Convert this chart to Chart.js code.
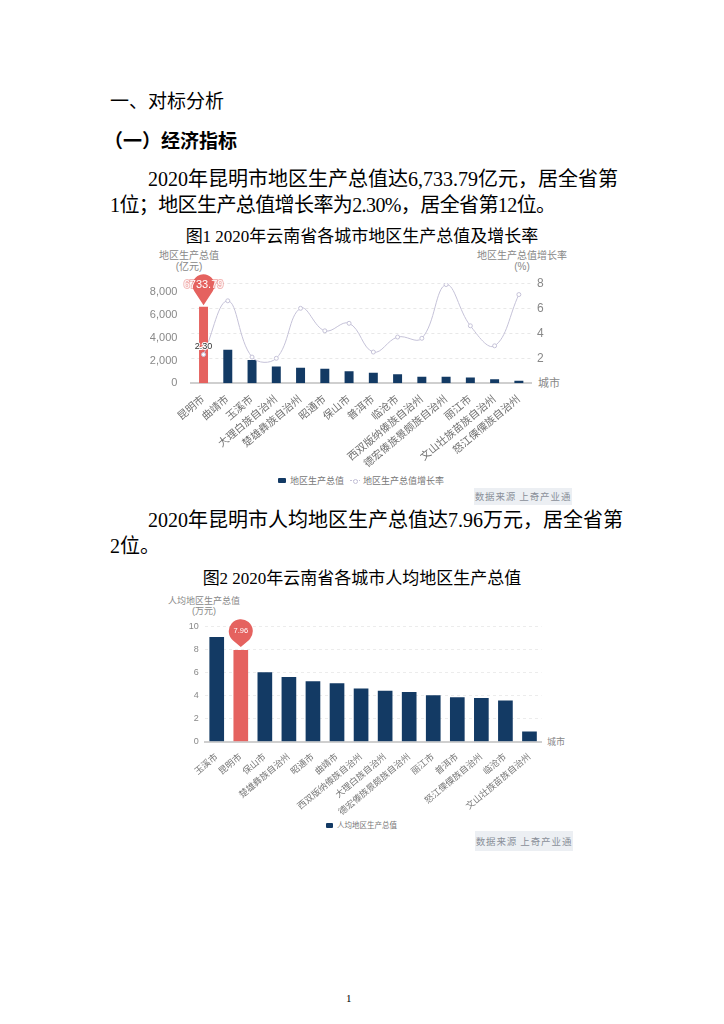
<!DOCTYPE html>
<html><head><meta charset="utf-8">
<script src="https://cdn.jsdelivr.net/npm/chart.js@4.4.1/dist/chart.umd.min.js"></script>
<style>
body{margin:0;width:724px;height:1024px;background:#fff;position:relative;overflow:hidden;font-family:"Liberation Serif","Noto Sans CJK SC",serif;color:#000;}
.t{position:absolute;white-space:nowrap;line-height:1;}
.p{font-size:20px;}
.ct{font-size:17px;left:0;width:724px;text-align:center;}
.ax{position:absolute;white-space:nowrap;text-align:center;color:#888;font-family:"Liberation Sans","Noto Sans CJK SC",sans-serif;}
.src{position:absolute;background:#eceff3;color:#8a8f99;font-family:"Noto Sans CJK SC",sans-serif;font-size:9.5px;letter-spacing:0.9px;text-align:center;}
.cv{position:absolute;}
.lg{position:absolute;white-space:nowrap;color:#777;font-family:"Noto Sans CJK SC",sans-serif;line-height:1;}
</style></head>
<body>
<div class="t" style="left:110px;top:92px;font-size:19px;">一、对标分析</div>
<div class="t" style="left:104px;top:130px;font-size:19px;font-weight:bold;font-family:'Noto Sans CJK SC',sans-serif;">（一）经济指标</div>
<div class="t p" style="left:148px;top:169px;">2020年昆明市地区生产总值达6,733.79亿元，居全省第</div>
<div class="t p" style="left:110px;top:195px;letter-spacing:-0.6px;">1位；地区生产总值增长率为2.30%，居全省第12位。</div>
<div class="t ct" style="top:228px;">图1 2020年云南省各城市地区生产总值及增长率</div>

<div class="ax" style="left:139px;width:100px;top:250px;font-size:10px;line-height:11px;">地区生产总值<br>(亿元)</div>
<div class="ax" style="left:472px;width:100px;top:250px;font-size:10px;line-height:11px;">地区生产总值增长率<br>(%)</div>
<div class="ax" style="left:538px;top:377px;font-size:11px;line-height:12px;">城市</div>
<div class="cv" style="left:150px;top:270px;"><canvas id="c1" width="424" height="200"></canvas></div>
<div class="lg" style="left:278px;top:478px;width:8px;height:5px;background:#133a64;border-radius:1px;"></div>
<div class="lg" style="left:290px;top:476px;font-size:9px;">地区生产总值</div>
<div class="lg" style="left:350px;top:480px;width:10px;height:0;border-top:1px dotted #c5c2d8;"></div>
<div class="lg" style="left:353px;top:478.5px;width:3px;height:3px;border:1px solid #c5c2d8;border-radius:50%;background:#fff;"></div>
<div class="lg" style="left:363px;top:476px;font-size:9px;">地区生产总值增长率</div>
<div class="src" style="left:474px;top:488px;width:98px;height:17px;line-height:17px;">数据来源 上奇产业通</div>

<div class="t p" style="left:148px;top:510px;">2020年昆明市人均地区生产总值达7.96万元，居全省第</div>
<div class="t p" style="left:110px;top:536px;">2位。</div>
<div class="t ct" style="top:570px;">图2 2020年云南省各城市人均地区生产总值</div>

<div class="ax" style="left:154px;width:100px;top:596px;font-size:9px;line-height:10px;">人均地区生产总值<br>(万元)</div>
<div class="ax" style="left:547px;top:737px;font-size:9px;line-height:10px;">城市</div>
<div class="cv" style="left:150px;top:615px;"><canvas id="c2" width="424" height="200"></canvas></div>
<div class="lg" style="left:326px;top:823px;width:7px;height:5px;background:#133a64;border-radius:1px;"></div>
<div class="lg" style="left:337px;top:821px;font-size:7.5px;">人均地区生产总值</div>
<div class="src" style="left:475px;top:831px;width:98px;height:20px;line-height:20px;">数据来源 上奇产业通</div>

<div class="t" style="left:346px;top:993px;font-size:11px;">1</div>

<script>
// ---------- data ----------
const cities1 = ['昆明市','曲靖市','玉溪市','大理白族自治州','楚雄彝族自治州','昭通市','保山市','普洱市','临沧市','西双版纳傣族自治州','德宏傣族景颇族自治州','丽江市','文山壮族苗族自治州','怒江傈僳族自治州'];
const gdp1 = [6733.79, 2959, 2058, 1484, 1365, 1289, 1066, 929, 805, 584, 571, 510, 350, 222];
const growth1 = [2.3, 6.6, 2.1, 2.0, 6.0, 4.2, 4.8, 2.5, 3.7, 3.6, 7.9, 4.6, 3.0, 7.1];
const gdpTicks = [0, 2000, 4000, 6000, 8000];
const growthTicks = [2, 4, 6, 8];

const cities2 = ['玉溪市','昆明市','保山市','楚雄彝族自治州','昭通市','曲靖市','西双版纳傣族自治州','大理白族自治州','德宏傣族景颇族自治州','丽江市','普洱市','怒江傈僳族自治州','临沧市','文山壮族苗族自治州'];
const perCap2 = [9.08, 7.96, 6.02, 5.62, 5.24, 5.07, 4.61, 4.41, 4.32, 4.03, 3.86, 3.78, 3.57, 0.89];
const perCapTicks = [0, 2, 4, 6, 8, 10];

const highlight = '昆明市';
const NAVY = '#133a64', RED = '#e5625f', LINE = '#c5c2d8';
const SANS = '"Liberation Sans","Noto Sans CJK SC",sans-serif';

function pin(ctx, x, tipY, d, r, text, fontPx) {
  const cy = tipY - d;
  const a = Math.acos(r / d);
  ctx.save();
  ctx.beginPath();
  ctx.moveTo(x, tipY);
  ctx.lineTo(x + r * Math.cos(Math.PI / 2 + a), cy + r * Math.sin(Math.PI / 2 + a));
  ctx.arc(x, cy, r, Math.PI / 2 + a, Math.PI * 2 + Math.PI / 2 - a, false);
  ctx.closePath();
  ctx.fillStyle = RED;
  ctx.fill();
  ctx.font = fontPx + 'px ' + SANS;
  ctx.textAlign = 'center';
  ctx.textBaseline = 'middle';
  ctx.lineWidth = 2;
  ctx.strokeStyle = 'rgba(229,98,95,0.45)';
  ctx.strokeText(text, x, cy);
  ctx.fillStyle = '#fff';
  ctx.fillText(text, x, cy);
  ctx.restore();
}

const pinPlugin1 = {
  id: 'pin1',
  afterDatasetsDraw(chart) {
    const i = cities1.indexOf(highlight);
    const bar = chart.getDatasetMeta(0).data[i];
    pin(chart.ctx, bar.x, bar.y - 1.5, 20, 11, gdp1[i].toFixed(2), 11);
    const pt = chart.getDatasetMeta(1).data[i];
    const ctx = chart.ctx;
    ctx.save();
    ctx.font = '9px ' + SANS;
    ctx.textAlign = 'center';
    ctx.textBaseline = 'middle';
    ctx.lineWidth = 2;
    ctx.strokeStyle = '#fff';
    const lbl = growth1[i].toFixed(2);
    ctx.strokeText(lbl, pt.x, pt.y - 8);
    ctx.fillStyle = '#333';
    ctx.fillText(lbl, pt.x, pt.y - 8);
    ctx.restore();
  }
};
const pinPlugin2 = {
  id: 'pin2',
  afterDatasetsDraw(chart) {
    const i = cities2.indexOf(highlight);
    const bar = chart.getDatasetMeta(0).data[i];
    pin(chart.ctx, bar.x, bar.y - 3, 15.7, 12, perCap2[i].toFixed(2), 7.5);
  }
};

function keepTicks(list) {
  return function (scale) { scale.ticks = list.map(v => ({ value: v })); };
}

new Chart(document.getElementById('c1'), {
  data: {
    labels: cities1,
    datasets: [
      { type: 'bar', label: '地区生产总值', data: gdp1, yAxisID: 'y', order: 1,
        backgroundColor: cities1.map(c => c === highlight ? RED : NAVY),
        categoryPercentage: 1, barPercentage: 0.37 },
      { type: 'line', label: '地区生产总值增长率', data: growth1, yAxisID: 'y1', order: 0,
        borderColor: LINE, borderWidth: 1, tension: 0.4,
        pointRadius: 2, pointBackgroundColor: '#fff', pointBorderColor: LINE, pointBorderWidth: 1 }
    ]
  },
  options: {
    responsive: false, animation: false, devicePixelRatio: 1,
    layout: { padding: { top: 13.3, left: 0, right: 0, bottom: 0 } },
    plugins: { legend: { display: false }, tooltip: { enabled: false } },
    scales: {
      x: {
        grid: { display: false },
        border: { display: true, color: '#cfcfcf', width: 2 },
        ticks: { color: '#707070', font: { size: 10.5, family: SANS }, minRotation: 40, maxRotation: 40, autoSkip: false, padding: 2 },
        afterFit(s) { s.height = 86.7; }
      },
      y: {
        position: 'left', min: 0, max: 8800,
        grid: { display: false }, border: { display: false },
        afterBuildTicks: keepTicks(gdpTicks),
        ticks: { color: '#888', font: { size: 11, family: SANS }, padding: 6,
          callback: v => v.toLocaleString('en-US') },
        afterFit(s) { s.width = 41.4; }
      },
      y1: {
        position: 'right', min: 0, max: 8,
        grid: { color: '#e8e8e8', drawTicks: false, tickLength: 0 },
        border: { display: false, dash: [3, 3] },
        afterBuildTicks: keepTicks(growthTicks),
        ticks: { color: '#888', font: { size: 12, family: SANS }, padding: 6 },
        afterFit(s) { s.width = 43; }
      }
    }
  },
  plugins: [pinPlugin1]
});

new Chart(document.getElementById('c2'), {
  type: 'bar',
  data: {
    labels: cities2,
    datasets: [
      { label: '人均地区生产总值', data: perCap2,
        backgroundColor: cities2.map(c => c === highlight ? RED : NAVY),
        categoryPercentage: 1, barPercentage: 0.61 }
    ]
  },
  options: {
    responsive: false, animation: false, devicePixelRatio: 1,
    layout: { padding: { top: 11, left: 0, right: 32.5, bottom: 0 } },
    plugins: { legend: { display: false }, tooltip: { enabled: false } },
    scales: {
      x: {
        grid: { display: false },
        border: { display: true, color: '#cfcfcf', width: 2 },
        ticks: { color: '#777', font: { size: 9, family: SANS }, minRotation: 40, maxRotation: 40, autoSkip: false, padding: 2 },
        afterFit(s) { s.height = 73.3; }
      },
      y: {
        min: 0, max: 10,
        grid: { color: '#ececec', drawTicks: false, tickLength: 0 },
        border: { display: false, dash: [3, 3] },
        afterBuildTicks: keepTicks(perCapTicks),
        ticks: { color: '#888', font: { size: 9, family: SANS }, padding: 6 },
        afterFit(s) { s.width = 54.7; }
      }
    }
  },
  plugins: [pinPlugin2]
});
</script>
</body></html>
